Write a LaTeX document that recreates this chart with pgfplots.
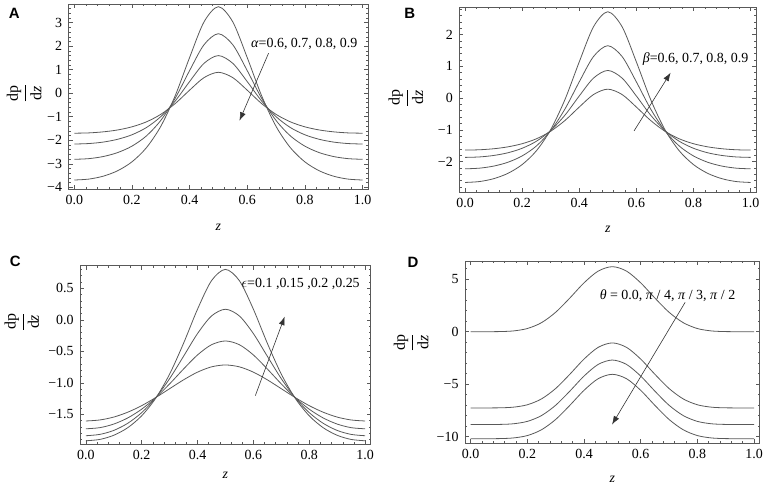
\documentclass[border=0pt]{standalone}
\usepackage{pgfplots}
\pgfplotsset{compat=1.18}
\usepackage{pgfplotstable}
\usepackage{fontspec}
\setmainfont{Liberation Serif}
\newfontfamily\panelfont{Liberation Sans}
\usetikzlibrary{arrows.meta}
\newcommand\fs{\fontsize{14}{16}\selectfont}
\tikzset{arr/.style={black!80, line width=0.6bp, -{Latex[length=8.5bp,width=6bp]}}}

\pgfplotstableread{
z c1 c2 c3 c4
0.00 -3.690 -2.810 -2.160 -1.700
0.05 -3.652 -2.782 -2.140 -1.687
0.10 -3.529 -2.693 -2.078 -1.643
0.15 -3.299 -2.526 -1.960 -1.563
0.20 -2.919 -2.251 -1.767 -1.429
0.25 -2.321 -1.818 -1.462 -1.219
0.30 -1.411 -1.159 -0.997 -0.899
0.35 -0.110 -0.216 -0.333 -0.442
0.40 1.515 0.961 0.495 0.129
0.45 3.031 2.060 1.269 0.662
0.50 3.680 2.530 1.600 0.890
0.55 3.031 2.060 1.269 0.662
0.60 1.515 0.961 0.495 0.129
0.65 -0.110 -0.216 -0.333 -0.442
0.70 -1.411 -1.159 -0.997 -0.899
0.75 -2.321 -1.818 -1.462 -1.219
0.80 -2.919 -2.251 -1.767 -1.429
0.85 -3.299 -2.526 -1.960 -1.563
0.90 -3.529 -2.693 -2.078 -1.643
0.95 -3.652 -2.782 -2.140 -1.687
1.00 -3.690 -2.810 -2.160 -1.700
}\tabA

\pgfplotstableread{
z c1 c2 c3 c4
0.00 -2.660 -2.230 -1.870 -1.640
0.05 -2.632 -2.210 -1.856 -1.630
0.10 -2.542 -2.145 -1.810 -1.598
0.15 -2.374 -2.024 -1.725 -1.538
0.20 -2.097 -1.824 -1.583 -1.439
0.25 -1.661 -1.510 -1.361 -1.284
0.30 -0.997 -1.030 -1.023 -1.046
0.35 -0.046 -0.345 -0.539 -0.707
0.40 1.139 0.510 0.065 -0.284
0.45 2.247 1.309 0.629 0.111
0.50 2.720 1.650 0.870 0.280
0.55 2.247 1.309 0.629 0.111
0.60 1.139 0.510 0.065 -0.284
0.65 -0.046 -0.345 -0.539 -0.707
0.70 -0.997 -1.030 -1.023 -1.046
0.75 -1.661 -1.510 -1.361 -1.284
0.80 -2.097 -1.824 -1.583 -1.439
0.85 -2.374 -2.024 -1.725 -1.538
0.90 -2.542 -2.145 -1.810 -1.598
0.95 -2.632 -2.210 -1.856 -1.630
1.00 -2.660 -2.230 -1.870 -1.640
}\tabB

\pgfplotstableread{
z c1 c2 c3 c4
0.00 -1.920 -1.840 -1.730 -1.606
0.05 -1.899 -1.819 -1.712 -1.590
0.10 -1.833 -1.756 -1.655 -1.544
0.15 -1.713 -1.643 -1.558 -1.467
0.20 -1.524 -1.474 -1.419 -1.363
0.25 -1.247 -1.239 -1.237 -1.235
0.30 -0.863 -0.935 -1.018 -1.094
0.35 -0.373 -0.579 -0.781 -0.953
0.40 0.168 -0.219 -0.558 -0.831
0.45 0.620 0.060 -0.396 -0.747
0.50 0.800 0.167 -0.336 -0.717
0.55 0.620 0.060 -0.396 -0.747
0.60 0.168 -0.219 -0.558 -0.831
0.65 -0.373 -0.579 -0.781 -0.953
0.70 -0.863 -0.935 -1.018 -1.094
0.75 -1.247 -1.239 -1.237 -1.235
0.80 -1.524 -1.474 -1.419 -1.363
0.85 -1.713 -1.643 -1.558 -1.467
0.90 -1.833 -1.756 -1.655 -1.544
0.95 -1.899 -1.819 -1.712 -1.590
1.00 -1.920 -1.840 -1.730 -1.606
}\tabC

\pgfplotstableread{
z c1 c2 c3 c4
0.00 0.000 -7.260 -8.840 -10.190
0.05 0.000 -7.260 -8.840 -10.190
0.10 0.008 -7.252 -8.833 -10.183
0.15 0.069 -7.191 -8.772 -10.122
0.20 0.299 -6.961 -8.543 -9.894
0.25 0.858 -6.402 -7.988 -9.340
0.30 1.850 -5.410 -7.005 -8.358
0.35 3.206 -4.054 -5.660 -7.015
0.40 4.650 -2.610 -4.228 -5.585
0.45 5.768 -1.492 -3.119 -4.478
0.50 6.190 -1.070 -2.700 -4.060
0.55 5.768 -1.492 -3.119 -4.478
0.60 4.650 -2.610 -4.228 -5.585
0.65 3.206 -4.054 -5.660 -7.015
0.70 1.850 -5.410 -7.005 -8.358
0.75 0.858 -6.402 -7.988 -9.340
0.80 0.299 -6.961 -8.543 -9.894
0.85 0.069 -7.191 -8.772 -10.122
0.90 0.008 -7.252 -8.833 -10.183
0.95 0.000 -7.260 -8.840 -10.190
1.00 0.000 -7.260 -8.840 -10.190
}\tabD

\pgfplotsset{
  curve/.style={smooth, line width=0.8bp, color=black!65, mark=none},
  mma/.style={
    scale only axis,
    xmin=-0.02, xmax=1.02,
    axis line style={black!65, line width=0.6bp},
    every tick/.style={black!65, line width=0.5bp},
    major tick length=4bp, minor tick length=2.2bp,
    tick align=inside,
    xtick={0,0.2,0.4,0.6,0.8,1},
    xticklabels={0.0,0.2,0.4,0.6,0.8,1.0},
    minor xtick={0,0.04,...,1.0},
    ticklabel style={font=\fs},
    xticklabel style={yshift=-2bp},
    yticklabel style={xshift=-3bp},
    xlabel={\fs\textit{z}},
    ylabel={\fontsize{16}{18}\selectfont$\displaystyle\frac{\mbox{dp}}{\mbox{d\textit{z}}}$},
  }
}

\begin{document}
\begin{tikzpicture}
\useasboundingbox (0,0) rectangle (767bp,489bp);

% Panel A
\begin{axis}[mma, at={(68.5bp,299.7bp)}, anchor=south west,
  width=299.8bp, height=185.3bp,
  ymin=-4.085, ymax=3.794,
  ytick={-4,-3,-2,-1,0,1,2,3},
  yticklabels={−4,−3,−2,−1,0,1,2,3},
  minor ytick={-4,-3.8,...,3.8},
  xlabel style={at={(axis description cs:0.5,-0.207)}, anchor=center},
  ylabel style={at={(axis description cs:-0.148,0.518)}, anchor=center},
]
\addplot[curve] table[x=z,y=c1]{\tabA};
\addplot[curve] table[x=z,y=c2]{\tabA};
\addplot[curve] table[x=z,y=c3]{\tabA};
\addplot[curve] table[x=z,y=c4]{\tabA};
\draw[arr] (axis cs:0.674,1.70) -- (axis cs:0.573,-1.17);
\node[anchor=west, inner sep=0pt, font=\fs] at (axis cs:0.613,2.106) {\textit{α}=0.6, 0.7, 0.8, 0.9};
\end{axis}

% Panel B
\begin{axis}[mma, at={(459.3bp,296.7bp)}, anchor=south west,
  width=297bp, height=185bp,
  ymin=-2.97, ymax=2.86,
  ytick={-2,-1,0,1,2},
  yticklabels={−2,−1,0,1,2},
  minor ytick={-2.8,-2.6,...,2.8},
  xlabel style={at={(axis description cs:0.5,-0.2)}, anchor=center},
  ylabel style={at={(axis description cs:-0.18,0.511)}, anchor=center},
]
\addplot[curve] table[x=z,y=c1]{\tabB};
\addplot[curve] table[x=z,y=c2]{\tabB};
\addplot[curve] table[x=z,y=c3]{\tabB};
\addplot[curve] table[x=z,y=c4]{\tabB};
\draw[arr] (axis cs:0.592,-1.034) -- (axis cs:0.72,0.80);
\node[anchor=west, inner sep=0pt, font=\fs] at (axis cs:0.622,1.224) {\textit{β}=0.6, 0.7, 0.8, 0.9};
\end{axis}

% Panel C
\begin{axis}[mma, at={(80.2bp,44.7bp)}, anchor=south west,
  width=290.5bp, height=178.7bp,
  ymin=-1.976, ymax=0.86,
  ytick={-1.5,-1,-0.5,0,0.5},
  yticklabels={−1.5,−1.0,−0.5,0.0,0.5},
  minor ytick={-1.9,-1.8,...,0.8},
  xlabel style={at={(axis description cs:0.5,-0.172)}, anchor=center},
  ylabel style={at={(axis description cs:-0.201,0.685)}, anchor=center},
]
\addplot[curve] table[x=z,y=c1]{\tabC};
\addplot[curve] table[x=z,y=c2]{\tabC};
\addplot[curve] table[x=z,y=c3]{\tabC};
\addplot[curve] table[x=z,y=c4]{\tabC};
\draw[arr] (axis cs:0.607,-1.204) -- (axis cs:0.712,0.05);
\node[anchor=west, inner sep=0pt, font=\fs] at (axis cs:0.557,0.564) {$\epsilon$=0.1 ,0.15 ,0.2 ,0.25};
\end{axis}

% Panel D
\begin{axis}[mma, at={(465bp,45.7bp)}, anchor=south west,
  width=294.7bp, height=182.3bp,
  ymin=-10.63, ymax=6.73,
  ytick={-10,-5,0,5},
  yticklabels={−10,−5,0,5},
  minor ytick={-10,-9,...,6},
  xlabel style={at={(axis description cs:0.5,-0.2)}, anchor=center},
  ylabel style={at={(axis description cs:-0.183,0.553)}, anchor=center},
]
\addplot[curve] table[x=z,y=c1]{\tabD};
\addplot[curve] table[x=z,y=c2]{\tabD};
\addplot[curve] table[x=z,y=c3]{\tabD};
\addplot[curve] table[x=z,y=c4]{\tabD};
\draw[arr] (axis cs:0.757,2.80) -- (axis cs:0.499,-8.84);
\node[anchor=west, inner sep=0pt, font=\fs] at (axis cs:0.455,3.43) {\textit{θ} = 0.0, \textit{π} / 4, \textit{π} / 3, \textit{π} / 2};
\end{axis}

\node[font=\panelfont\bfseries\fontsize{15}{17}\selectfont] at (14.2bp,475.2bp) {A};
\node[font=\panelfont\bfseries\fontsize{15}{17}\selectfont] at (409.7bp,475.3bp) {B};
\node[font=\panelfont\bfseries\fontsize{15}{17}\selectfont] at (15.3bp,227.5bp) {C};
\node[font=\panelfont\bfseries\fontsize{15}{17}\selectfont] at (413bp,226.5bp) {D};
\end{tikzpicture}
\end{document}
